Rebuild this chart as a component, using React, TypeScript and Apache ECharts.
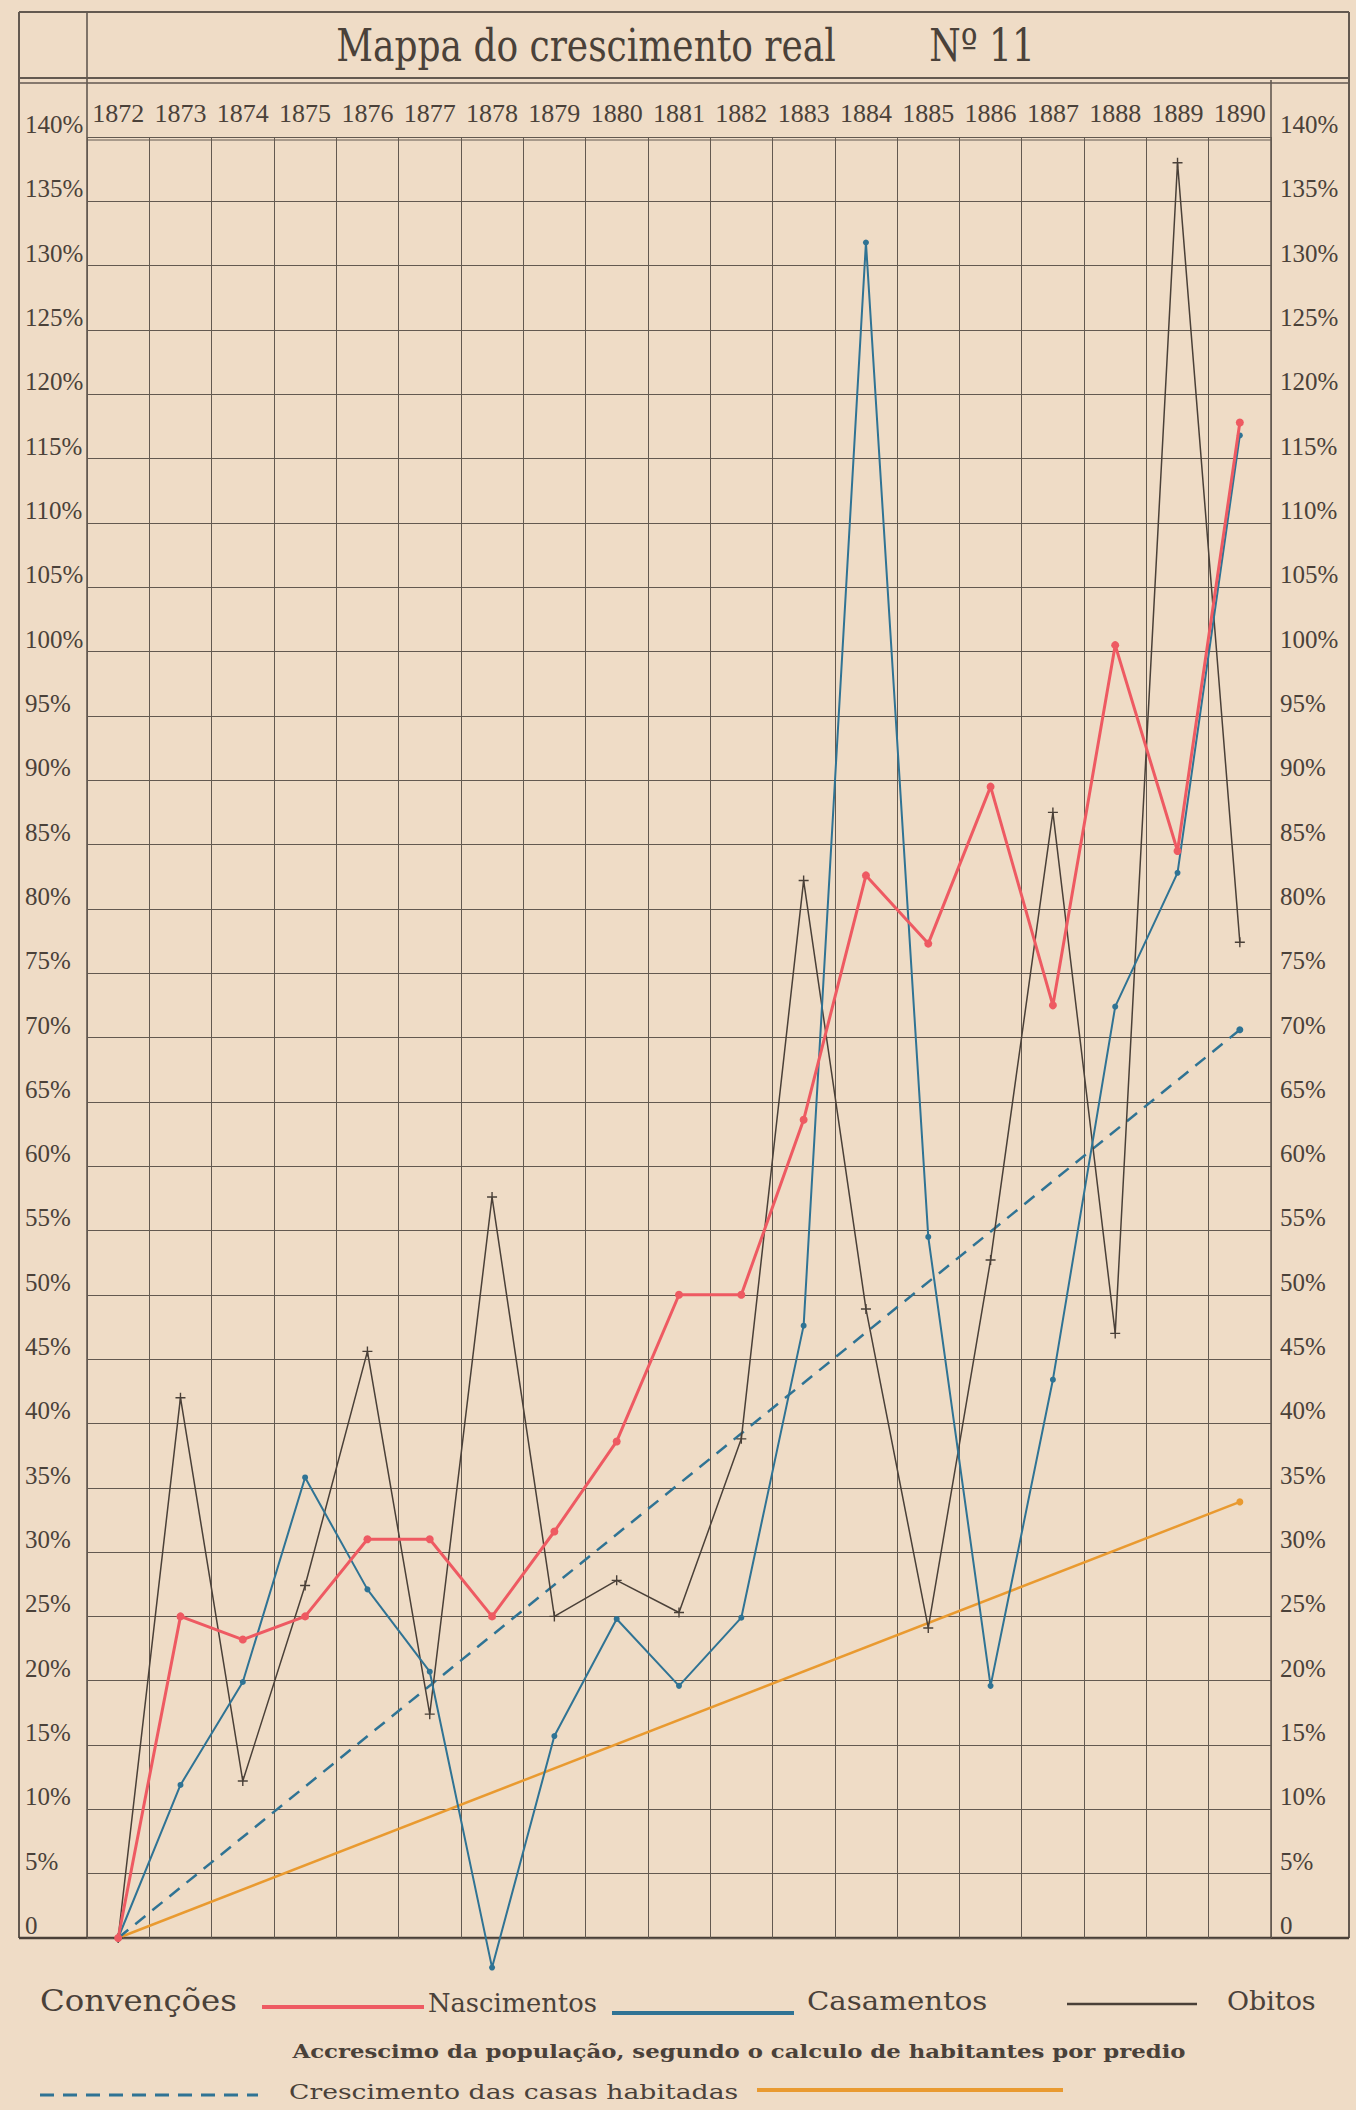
import React, { useEffect, useRef } from "react";
import * as echarts from "echarts";

// ---- data ----
const years = ["1872", "1873", "1874", "1875", "1876", "1877", "1878", "1879", "1880", "1881", "1882", "1883", "1884", "1885", "1886", "1887", "1888", "1889", "1890"];
const nascimentos = [0, 25, 23.2, 25, 31, 31, 25, 31.6, 38.6, 50, 50, 63.6, 82.6, 77.3, 89.5, 72.5, 100.5, 84.5, 117.8];
const casamentos = [0, 11.9, 19.9, 35.8, 27.1, 20.7, -2.3, 15.7, 24.8, 19.6, 24.9, 47.6, 131.8, 54.5, 19.6, 43.4, 72.4, 82.8, 116.8];
const obitos = [0, 42, 12.2, 27.4, 45.6, 17.4, 57.6, 25, 27.8, 25.3, 38.8, 82.2, 48.9, 24.1, 52.7, 87.5, 47, 138, 77.4];
const accrescimo = [0, null, null, null, null, null, null, null, null, null, null, null, null, null, null, null, null, null, 70.6];
const casasHabitadas = [0, null, null, null, null, null, null, null, null, null, null, null, null, null, null, null, null, null, 33.9];
const yMin = 0;
const yMax = 140;
const yStep = 5;

const W = 1356;
const H = 2110;
const PAPER = "#efdcc6";
const INK = "#4a4139";
const GRID = "#635950";
const RED = "#ee5a62";
const BLUE = "#2f7394";
const BLACK = "#4a4038";
const ORANGE = "#e99a30";
const SERIF = "'Liberation Serif', serif";
const COND = "'DejaVu Serif Condensed', 'DejaVu Serif', serif";

const L = 87;
const R = 1271;
const T = 137;
const B = 1938;

function ln(x1: number, y1: number, x2: number, y2: number, stroke: string, lineWidth: number, dash?: number[]) {
  return {
    type: "line",
    silent: true,
    shape: { x1, y1, x2, y2 },
    style: { stroke, lineWidth, lineDash: dash },
  };
}

function tx(text: string, x: number, y: number, fontSize: number, opts: any = {}) {
  return {
    type: "text",
    silent: true,
    x,
    y,
    scaleX: opts.scaleX ?? 1,
    scaleY: opts.scaleY ?? 1,
    style: {
      text,
      fontSize,
      fontFamily: opts.fontFamily ?? COND,
      fontWeight: opts.fontWeight ?? "normal",
      fill: INK,
      align: opts.align ?? "left",
      verticalAlign: "middle",
    },
  };
}

export default function App() {
  const ref = useRef<HTMLDivElement>(null);

  useEffect(() => {
    if (!ref.current) return;
    const chart = echarts.init(ref.current, undefined, { renderer: "svg", width: W, height: H });
    const pct = (v: number) => (v === 0 ? "0" : v + "%");
    const plus = "path://M4.3,0h1.4v4.3h4.3v1.4h-4.3v4.3h-1.4v-4.3h-4.3v-1.4h4.3z";

    const option: any = {
      animation: false,
      backgroundColor: PAPER,
      grid: { left: L, right: W - R, top: T, bottom: H - B, containLabel: false },
      xAxis: {
        type: "category",
        position: "top",
        data: years,
        boundaryGap: true,
        axisLine: { show: false },
        axisTick: { show: true, interval: 0, length: 57, lineStyle: { color: GRID, width: 1 } },
        axisLabel: { interval: 0, fontFamily: SERIF, fontSize: 26, color: INK, margin: 11 },
        splitLine: { show: true, interval: 0, lineStyle: { color: GRID, width: 1 } },
      },
      yAxis: [
        {
          type: "value",
          position: "left",
          min: yMin,
          max: yMax,
          interval: yStep,
          axisLine: { show: false },
          axisTick: { show: false },
          axisLabel: {
            formatter: pct,
            fontFamily: SERIF,
            fontSize: 25,
            color: INK,
            align: "left",
            verticalAlign: "bottom",
            margin: 62,
          },
          splitLine: { show: true, lineStyle: { color: GRID, width: 1 } },
        },
        {
          type: "value",
          position: "right",
          min: yMin,
          max: yMax,
          interval: yStep,
          axisLine: { show: false },
          axisTick: { show: false },
          axisLabel: {
            formatter: pct,
            fontFamily: SERIF,
            fontSize: 25,
            color: INK,
            align: "left",
            verticalAlign: "bottom",
            margin: 9,
          },
          splitLine: { show: false },
        },
      ],
      series: [
        {
          name: "Crescimento das casas habitadas",
          type: "line",
          data: casasHabitadas,
          connectNulls: true,
          clip: false,
          symbol: "circle",
          symbolSize: 7,
          lineStyle: { color: ORANGE, width: 2.5 },
          itemStyle: { color: ORANGE },
          z: 2,
        },
        {
          name: "Accrescimo da população",
          type: "line",
          data: accrescimo,
          connectNulls: true,
          clip: false,
          symbol: "circle",
          symbolSize: 7,
          lineStyle: { color: BLUE, width: 2.5, type: [13, 9] },
          itemStyle: { color: BLUE },
          z: 2,
        },
        {
          name: "Obitos",
          type: "line",
          data: obitos,
          clip: false,
          symbol: plus,
          symbolSize: 10,
          lineStyle: { color: BLACK, width: 1.5 },
          itemStyle: { color: BLACK },
          z: 3,
        },
        {
          name: "Casamentos",
          type: "line",
          data: casamentos,
          clip: false,
          symbol: "circle",
          symbolSize: 6,
          lineStyle: { color: BLUE, width: 2 },
          itemStyle: { color: BLUE },
          z: 4,
        },
        {
          name: "Nascimentos",
          type: "line",
          data: nascimentos,
          clip: false,
          symbol: "circle",
          symbolSize: 8,
          lineStyle: { color: RED, width: 3 },
          itemStyle: { color: RED },
          z: 5,
        },
      ],
      graphic: [
        // frame
        ln(19, 12, 1349, 12, GRID, 2),
        ln(19, 12, 19, B, GRID, 2),
        ln(1349, 12, 1349, B, GRID, 2),
        ln(19, 78, 1349, 78, GRID, 2),
        ln(19, 83, 1349, 83, GRID, 1.5),
        ln(L, 12, L, B, GRID, 1.6),
        ln(R, 80, R, B, GRID, 1.6),
        ln(L, T + 3, R, T + 3, GRID, 1),
        ln(19, B, 1349, B, "#4a4038", 2.6),
        // title
        tx("Mappa do crescimento real", 586, 46, 40, { align: "center", scaleY: 1.1 }),
        tx("Nº 11", 982, 46, 40, { align: "center", scaleY: 1.1 }),
        // legend row 1
        tx("Convenções", 40, 2001, 30, { scaleX: 1.2 }),
        ln(262, 2007, 424, 2007, RED, 4),
        tx("Nascimentos", 428, 2003, 26, { scaleX: 1.1 }),
        ln(612, 2013, 794, 2013, BLUE, 4),
        tx("Casamentos", 807, 2001, 26, { scaleX: 1.25 }),
        ln(1067, 2004, 1197, 2004, BLACK, 2.5),
        tx("Obitos", 1227, 2001, 26, { scaleX: 1.15 }),
        // legend row 2
        tx("Accrescimo da população, segundo o calculo de habitantes por predio", 739, 2051, 19, {
          align: "center",
          fontWeight: "bold",
          fontFamily: "'DejaVu Serif', serif",
          scaleX: 1.2,
        }),
        // legend row 3
        ln(40, 2095, 258, 2095, BLUE, 3, [14, 9]),
        tx("Crescimento das casas habitadas", 289, 2092, 21, { fontFamily: "'DejaVu Serif', serif", scaleX: 1.27 }),
        ln(757, 2090, 1063, 2090, ORANGE, 4),
      ],
    };

    chart.setOption(option);
    return () => chart.dispose();
  }, []);

  return (
    <div
      ref={ref}
      style={{ position: "absolute", left: 0, top: 0, width: W, height: H, background: PAPER }}
    />
  );
}
